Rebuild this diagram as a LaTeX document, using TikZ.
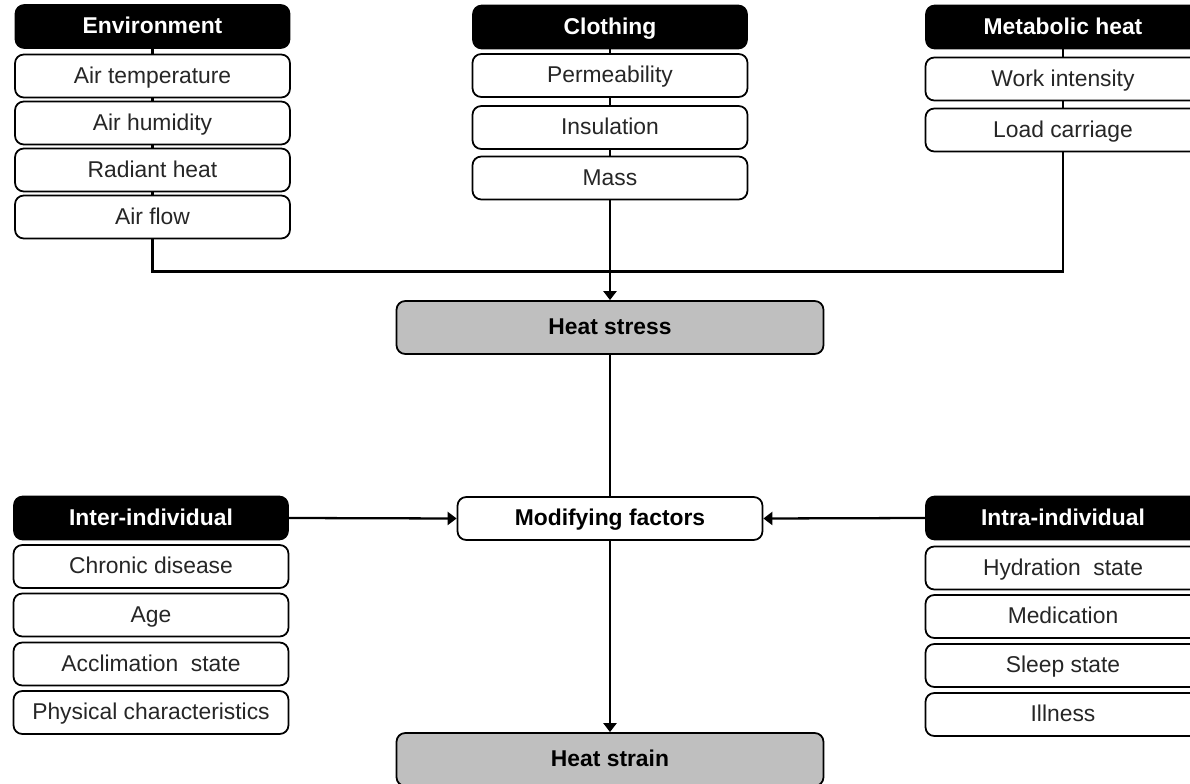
\documentclass[tikz,border=0pt]{standalone}
\usepackage{fontspec}
\setmainfont{Liberation Sans}
\usepackage{tikz}
\usetikzlibrary{arrows.meta,positioning,calc}

\begin{document}
\begin{tikzpicture}[font=\fontsize{13}{15}\selectfont,
  head/.style={draw,fill=black,text=white,font=\fontsize{13}{15}\selectfont\bfseries,rounded corners=5pt,minimum width=5.48cm,minimum height=0.86cm,line width=1pt,text height=10.5pt,text depth=2pt},
  item/.style={draw,fill=white,text=black!85,rounded corners=5pt,minimum width=5.5cm,minimum height=0.86cm,line width=1pt,text height=10.5pt,text depth=2pt},
  grey/.style={draw,fill=black!25,font=\fontsize{13}{15}\selectfont\bfseries,rounded corners=5pt,minimum width=8.54cm,minimum height=1.06cm,line width=1pt,text height=10.5pt,text depth=2pt},
  link/.style={line width=1.3pt},
  arr/.style={-{Triangle[length=1.8mm,width=2.6mm]},line width=1.3pt}]
\useasboundingbox (0,0) rectangle (23.8,-15.68);
% top: sources of heat stress
\node[head] (env) at (3.05,-0.53) {Environment};
\node[item] (airt) at (3.05,-1.52) {Air temperature};
\node[item] (airh) at (3.05,-2.46) {Air humidity};
\node[item] (rad) at (3.05,-3.40) {Radiant heat};
\node[item] (airf) at (3.05,-4.34) {Air flow};
\node[head] (clo) at (12.2,-0.54) {Clothing};
\node[item] (perm) at (12.2,-1.51) {Permeability};
\node[item] (ins) at (12.2,-2.55) {Insulation};
\node[item] (mass) at (12.2,-3.56) {Mass};
\node[head] (met) at (21.26,-0.54) {Metabolic heat};
\node[item] (work) at (21.26,-1.58) {Work intensity};
\node[item] (load) at (21.26,-2.60) {Load carriage};
% centre column
\node[grey] (hs) at (12.2,-6.55) {Heat stress};
\node[item,font=\fontsize{13}{15}\selectfont\bfseries,text=black,minimum width=6.1cm] (mod) at (12.2,-10.37) {Modifying factors};
\node[grey] (hst) at (12.2,-15.19) {Heat strain};
% bottom: individual factors
\node[head] (inter) at (3.02,-10.36) {Inter-individual};
\node[item] (chron) at (3.02,-11.33) {Chronic disease};
\node[item] (age) at (3.02,-12.30) {Age};
\node[item] (accl) at (3.02,-13.28) {Acclimation\ \ state};
\node[item] (phys) at (3.02,-14.25) {Physical characteristics};
\node[head] (intra) at (21.26,-10.36) {Intra-individual};
\node[item] (hyd) at (21.26,-11.36) {Hydration\ \ state};
\node[item] (med) at (21.26,-12.33) {Medication};
\node[item] (sleep) at (21.26,-13.31) {Sleep state};
\node[item] (ill) at (21.26,-14.29) {Illness};
% stacks
\draw[link] (env.south) -- (airt.north);
\draw[link] (airt.south) -- (airh.north);
\draw[link] (airh.south) -- (rad.north);
\draw[link] (rad.south) -- (airf.north);
\draw[link] (clo.south) -- (perm.north);
\draw[link] (perm.south) -- (ins.north);
\draw[link] (ins.south) -- (mass.north);
\draw[link] (met.south) -- (work.north);
\draw[link] (work.south) -- (load.north);
% join into heat stress
\coordinate (join) at ($(mass.south)+(0,-1.42)$);
\draw[link] (airf.south) |- (join) -| (load.south);
\draw[arr] (mass.south) -- (hs.north);
\draw[link] (hs.south) -- (mod.north);
\draw[arr] (inter.east) -- (mod.west);
\draw[arr] (intra.west) -- (mod.east);
\draw[arr] (mod.south) -- (hst.north);
\end{tikzpicture}
\end{document}
